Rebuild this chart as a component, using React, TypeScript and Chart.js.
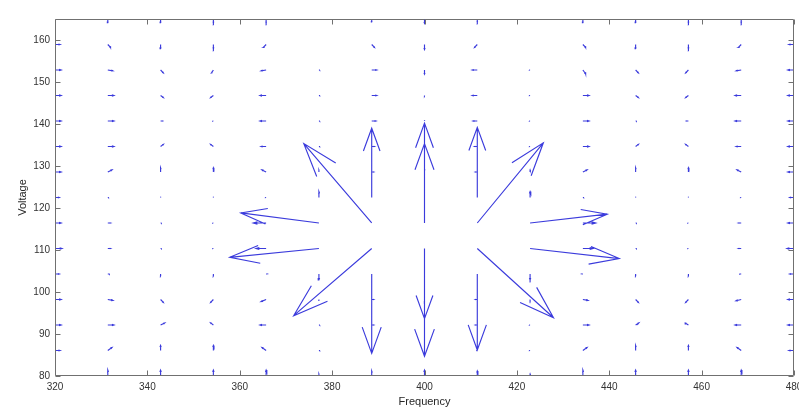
import React, { useEffect, useRef } from "react";
import { Chart, registerables } from "chart.js";

Chart.register(...registerables);

// Grid of the quiver plot (Frequency x Voltage)
const xGrid = [320, 331.43, 342.86, 354.29, 365.71, 377.14, 388.57, 400, 411.43, 422.86, 434.29, 445.71, 457.14, 468.57, 480];
const yGrid = [80, 86.07, 92.14, 98.21, 104.29, 110.36, 116.43, 122.5, 128.57, 134.64, 140.71, 146.79, 152.86, 158.93, 165];

// Axis ticks
const xTicks = [320, 340, 360, 380, 400, 420, 440, 460, 480];
const yTicks = [80, 90, 100, 110, 120, 130, 140, 150, 160];

// Vector components (rows bottom -> top, columns left -> right), in axis units
const U = [
  [0, 0, 0, 0, 0, 0, 0, 0, 0, 0, 0, 0, 0, 0, 0],
  [1.1, 0.9, 0, 0, -0.9, 0.2, 0.2, 0, -0.2, -0.2, 0.9, 0, 0, -0.9, -1.1],
  [1.3, 1.3, 0.9, -0.6, -1.3, 0.2, 0.4, 0, -0.4, -0.2, 1.3, 0.7, -0.7, -1.3, -1.3],
  [1.3, 1.1, 0.6, -0.6, -1.1, 0, 0.4, 0, -0.4, 0, 1.1, 0.6, -0.6, -1.1, -1.3],
  [0.9, 0.4, 0, 0, 0.2, 0, 0, 0, 0, 0, -0.2, 0, 0, -0.4, -0.9],
  [1.5, 0.6, 0.2, -0.2, -2.2, -19.3, -16.9, 0, 16.5, 19.3, 2.2, 0.2, -0.2, -0.6, -1.5],
  [1.3, 0.6, 0.2, -0.2, -2.8, -16.9, -14.7, 0, 14.3, 16.7, 2.8, 0.2, -0.2, -0.6, -1.3],
  [0.9, 0.2, 0, 0, -0.2, 0, 0, 0, 0, 0, 0.2, 0, 0, -0.2, -0.9],
  [1.3, 0.9, 0, 0, -0.9, 0, 0.4, 0, -0.4, 0, 0.9, 0, 0, -0.9, -1.3],
  [1.3, 1.3, 0.6, -0.6, -1.1, 0.2, 0.6, 0, -0.6, -0.2, 1.3, 0.6, -0.6, -1.1, -1.3],
  [1.3, 1.3, 0.4, -0.2, -1.3, 0.2, 0.9, 0, -0.9, -0.2, 1.3, 0.2, -0.4, -1.3, -1.3],
  [1.3, 1.3, 0.6, -0.6, -1.3, 0.2, 1.1, 0, -1.1, -0.2, 1.3, 0.6, -0.6, -1.3, -1.3],
  [1.3, 1.1, 0.6, -0.4, -1.1, 0.2, 1.1, 0, -1.1, -0.2, 0.6, 0.6, -0.6, -1.1, -1.3],
  [1.1, 0.6, 0, 0, -0.6, 0, 0.6, 0, -0.6, 0, 0.6, 0, 0, -0.6, -1.1],
  [0, 0, 0, 0, 0, 0, 0, 0, 0, 0, 0, 0, 0, 0, 0],
];
const V = [
  [0, 1.4, 1.4, 1.4, 1.4, 0.5, 1.2, 1.4, 1.2, 0.5, 1.4, 1.4, 1.4, 1.4, 0],
  [0, 0.7, 1.2, 1.2, 0.7, 0, 0, 0.2, 0, 0, 0.7, 1.2, 1.2, 0.7, 0],
  [0, 0, 0.5, 0.5, 0, 0, 0, 0, 0, 0, 0, 0.5, 0.5, 0, 0],
  [0, -0.2, -0.7, -0.7, -0.5, -0.2, 0, -0.5, 0, -0.2, -0.2, -0.7, -0.7, -0.3, 0],
  [0, 0, -0.5, -0.5, 0, -1.4, -18.9, -19.6, -18.1, -1.4, 0, -0.5, -0.5, 0, 0],
  [0, 0, 0, 0, 0, -2.1, -16.0, -16.7, -16.5, -2.4, 0, 0, 0, 0, 0],
  [0, 0, 0, 0, 0, 2.4, 18.9, 18.9, 19.1, 2.1, 0, 0, 0, 0, 0],
  [0, 0, 0.2, 0.2, 0, 1.4, 16.5, 17.7, 16.7, 1.4, 0, 0.2, 0.2, 0, 0],
  [0, 0.5, 1.0, 1.0, 0.5, 0.5, 0, 0.7, 0, 0.5, 0.5, 1.0, 1.0, 0.5, 0],
  [0, 0, 0.5, 0.5, 0, 0, 0, 0.5, 0, 0, 0, 0.5, 0.5, 0, 0],
  [0, 0, 0, 0, 0, 0, 0, 0.2, 0, 0, 0, 0, 0, 0, 0],
  [0, 0, -0.5, -0.5, 0, 0, 0, -0.2, 0, 0, 0, -0.5, -0.5, 0, 0],
  [0, -0.2, -0.7, -0.7, -0.2, 0, 0, -1.0, 0, 0, -0.9, -0.7, -0.7, -0.2, 0],
  [0, -0.7, -1.0, -1.0, -0.7, 0, -0.7, -1.2, -0.7, 0, -0.7, -1.0, -1.0, -0.7, 0],
  [0, -0.9, -0.9, -0.9, -0.9, 0, -0.7, -1.0, -0.7, 0, -0.9, -0.9, -0.9, -0.9, 0],
];

const HEAD_ALPHA = 0.33;
const HEAD_BETA = 0.33;

function buildArrowPoints() {
  const pts: { x: number; y: number }[] = [];
  const gap = { x: NaN, y: NaN };
  for (let r = 0; r < yGrid.length; r++) {
    for (let c = 0; c < xGrid.length; c++) {
      const u = U[r][c];
      const v = V[r][c];
      if (u === 0 && v === 0) continue;
      const x = xGrid[c];
      const y = yGrid[r];
      const tx = x + u;
      const ty = y + v;
      pts.push({ x, y }, { x: tx, y: ty }, gap);
      pts.push(
        { x: tx - HEAD_ALPHA * (u + HEAD_BETA * v), y: ty - HEAD_ALPHA * (v - HEAD_BETA * u) },
        { x: tx, y: ty },
        { x: tx - HEAD_ALPHA * (u - HEAD_BETA * v), y: ty - HEAD_ALPHA * (v + HEAD_BETA * u) },
        gap
      );
    }
  }
  return pts;
}

const framePlugin = {
  id: "matlabFrame",
  afterDraw(chart: any) {
    const { ctx, chartArea } = chart;
    const xs = chart.scales.x;
    const ys = chart.scales.y;
    const L = Math.round(chartArea.left) + 0.5;
    const R = Math.round(chartArea.right) - 0.5;
    const T = Math.round(chartArea.top) + 0.5;
    const B = Math.round(chartArea.bottom) - 0.5;
    ctx.save();
    ctx.strokeStyle = "#707070";
    ctx.lineWidth = 1;
    ctx.beginPath();
    ctx.rect(L, T, R - L, B - T);
    const tl = 5;
    for (const v of xTicks) {
      const px = Math.round(xs.getPixelForValue(v)) + 0.5;
      ctx.moveTo(px, B);
      ctx.lineTo(px, B - tl);
      ctx.moveTo(px, T);
      ctx.lineTo(px, T + tl);
    }
    for (const v of yTicks) {
      const py = Math.round(ys.getPixelForValue(v)) + 0.5;
      ctx.moveTo(L, py);
      ctx.lineTo(L + tl, py);
      ctx.moveTo(R, py);
      ctx.lineTo(R - tl, py);
    }
    ctx.stroke();
    ctx.restore();
  },
};

export default function App() {
  const canvasRef = useRef<HTMLCanvasElement | null>(null);

  useEffect(() => {
    if (!canvasRef.current) return;
    const font = "'Liberation Sans', Arial, Helvetica, sans-serif";
    const chart = new Chart(canvasRef.current, {
      type: "scatter",
      data: {
        datasets: [
          {
            data: buildArrowPoints(),
            showLine: true,
            spanGaps: false,
            borderColor: "#3b3bdc",
            borderWidth: 1.15,
            pointRadius: 0,
            pointHoverRadius: 0,
            tension: 0,
          },
        ],
      },
      options: {
        animation: false,
        responsive: false,
        events: [],
        layout: { padding: { left: 0, right: 5, top: 19, bottom: 0 } },
        plugins: {
          legend: { display: false },
          tooltip: { enabled: false },
        },
        scales: {
          x: {
            type: "linear",
            min: 320,
            max: 480,
            grid: { display: false, drawTicks: false },
            border: { display: false },
            afterBuildTicks: (scale: any) => {
              scale.ticks = xTicks.map((v) => ({ value: v }));
            },
            afterFit: (scale: any) => {
              scale.height = 36;
              scale.paddingLeft = 0;
              scale.paddingRight = 0;
            },
            ticks: {
              padding: 5,
              color: "#333",
              maxRotation: 0,
              autoSkip: false,
              font: { family: font, size: 10 },
            },
            title: {
              display: true,
              text: "Frequency",
              color: "#262626",
              font: { family: font, size: 11 },
              padding: { top: 0, bottom: 3 },
            },
          },
          y: {
            type: "linear",
            min: 80,
            max: 165,
            grid: { display: false, drawTicks: false },
            border: { display: false },
            afterBuildTicks: (scale: any) => {
              scale.ticks = yTicks.map((v) => ({ value: v }));
            },
            afterFit: (scale: any) => {
              scale.width = 55;
              scale.paddingTop = 0;
              scale.paddingBottom = 0;
            },
            ticks: {
              padding: 5,
              color: "#333",
              autoSkip: false,
              font: { family: font, size: 10 },
            },
            title: {
              display: true,
              text: "Voltage",
              color: "#262626",
              font: { family: font, size: 11 },
              padding: { top: 16, bottom: 0 },
            },
          },
        },
      },
      plugins: [framePlugin],
    });
    return () => chart.destroy();
  }, []);

  return (
    <div style={{ position: "fixed", left: 0, top: 0, width: 799, height: 412, background: "#fff" }}>
      <canvas ref={canvasRef} width={799} height={412} style={{ display: "block" }} />
    </div>
  );
}
